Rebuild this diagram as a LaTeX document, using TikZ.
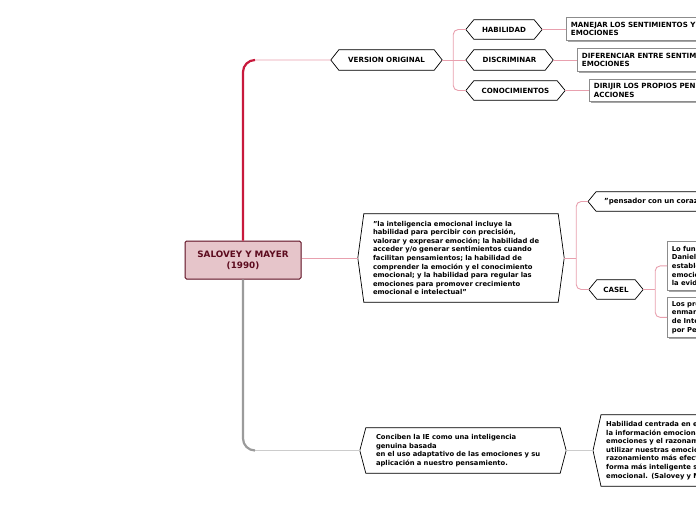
\documentclass[tikz,border=0pt]{standalone}
\usepackage{fontspec}
\setmainfont{DejaVu Sans}
\usetikzlibrary{shadows}
\pgfdeclarelayer{background}
\pgfsetlayers{background,main}
\definecolor{redtrunk}{HTML}{C8193C}
\definecolor{pinkline}{HTML}{E8A0AE}
\definecolor{graytrunk}{HTML}{9B9B9B}
\definecolor{lgrayline}{HTML}{CCCCCC}
\definecolor{leafgray}{HTML}{8C8C8C}
\definecolor{rootfill}{HTML}{E6C5CA}
\definecolor{rootdraw}{HTML}{5C0B1E}
\newcommand{\hexpath}[2]{([xshift=#2]#1.north west) -- ([xshift=-#2]#1.north east) -- (#1.east) -- ([xshift=-#2]#1.south east) -- ([xshift=#2]#1.south west) -- (#1.west) -- cycle}
\newcommand{\hexof}[2]{%
  \begin{pgfonlayer}{background}
    \fill[black!45,yshift=-1.4pt] \hexpath{#1}{#2};
    \filldraw[fill=white,draw=black,line width=0.7pt] \hexpath{#1}{#2};
  \end{pgfonlayer}}
\begin{document}
\begin{tikzpicture}[x=1pt,y=-1pt,
  capsf/.style={font=\fontsize{7.1}{8.8}\selectfont\bfseries},
  bodyf/.style={font=\fontsize{6.8}{8.6}\selectfont\bfseries},
  hexlabel/.style={capsf,inner sep=0pt,minimum height=19pt},
  hexbody/.style={bodyf,inner ysep=0pt,align=left},
  leafbox/.style={capsf,draw=leafgray,fill=white,line width=0.8pt,inner xsep=4.5pt,inner ysep=2pt,
    align=left,anchor=north west,text width=220pt,
    drop shadow={shadow xshift=1.3pt,shadow yshift=-1.3pt,fill=black!35,opacity=1}},
  leafbody/.style={leafbox,bodyf},
  rootbox/.style={draw=rootdraw,fill=rootfill,line width=1pt,rounded corners=1.5pt,
    text=rootdraw,font=\fontsize{8.8}{11}\selectfont\bfseries,align=center,
    minimum width=116pt,minimum height=38pt,inner sep=0pt},
  pinkl/.style={draw=pinkline,line width=0.9pt},
  redl/.style={draw=redtrunk,line width=2.2pt},
  grayl/.style={draw=graytrunk,line width=2.2pt},
  lgrayl/.style={draw=lgrayline,line width=0.9pt}]
\useasboundingbox (0,0) rectangle (696,520);
\clip (0,0) rectangle (696,520);

% root
\node[rootbox] (root) at (243,260) {SALOVEY Y MAYER\\(1990)};

% upper branch
\node[hexlabel,minimum width=111pt,minimum height=20pt] (vo) at (386.5,60) {VERSION ORIGINAL};
\hexof{vo}{8pt}
\node[hexlabel,minimum width=76pt] (hab) at (504,29.5) {HABILIDAD};
\hexof{hab}{8pt}
\node[hexlabel,minimum width=87pt,minimum height=20pt] (dis) at (509.5,60) {DISCRIMINAR};
\hexof{dis}{8pt}
\node[hexlabel,minimum width=99pt] (con) at (515.5,90.5) {CONOCIMIENTOS};
\hexof{con}{8pt}
\node[leafbox,minimum height=23pt] (man) at (566,17) {MANEJAR LOS SENTIMIENTOS Y\\EMOCIONES};
\node[leafbox,minimum height=23pt] (dif) at (577,48) {DIFERENCIAR ENTRE SENTIMIENTOS Y\\EMOCIONES};
\node[leafbox,minimum height=22pt] (dir) at (589,79) {DIRIJIR LOS PROPIOS PENSAMIENTOS Y\\ACCIONES};

% middle branch
\node[hexbody,inner xsep=15pt,text width=176pt,minimum height=88pt] (quote) at (461,258)
  {"la inteligencia emocional incluye la\\
   habilidad para percibir con precisión,\\
   valorar y expresar emoción; la habilidad de\\
   acceder y/o generar sentimientos cuando\\
   facilitan pensamientos; la habilidad de\\
   comprender la emoción y el conocimiento\\
   emocional; y la habilidad para regular las\\
   emociones para promover crecimiento\\
   emocional e intelectual"};
\hexof{quote}{6pt}
\node[hexbody,font=\fontsize{7}{8.5}\selectfont\bfseries,anchor=west,inner xsep=16pt,text width=200pt,minimum height=19pt] (pens) at (588,201.5)
  {"pensador con un corazón"};
\hexof{pens}{8pt}
\node[hexlabel,minimum width=54pt] (casel) at (616,289.5) {CASEL};
\hexof{casel}{8pt}
\node[leafbody,minimum height=49pt] (lofun) at (667,241)
  {Lo fundamental del planteamiento de\\
   Daniel Goleman consiste en\\
   establecer que las competencias\\
   emocionales pueden medirse según\\
   la evidencia científica};
\node[leafbody,minimum height=40pt] (lospr) at (667,297)
  {Los programas de CASEL se\\
   enmarcan en el modelo\\
   de Inteligencia Emocional propuesto\\
   por Peter Salovey};

% lower branch
\node[hexbody,inner xsep=16pt,text width=174pt,minimum height=45pt] (conc) at (463,450.5)
  {Conciben la IE como una inteligencia\\
   genuina basada\\
   en el uso adaptativo de las emociones y su\\
   aplicación a nuestro pensamiento.};
\hexof{conc}{6pt}
\node[hexbody,anchor=west,inner xsep=13pt,text width=220pt,minimum height=71pt] (habc) at (593,450.5)
  {Habilidad centrada en el procesamiento de\\
   la información emocional que unifica las\\
   emociones y el razonamiento, permitiendo\\
   utilizar nuestras emociones para facilitar un\\
   razonamiento más efectivo y pensar de\\
   forma más inteligente sobre nuestra vida\\
   emocional. (Salovey y Mayer, 1997)};
\hexof{habc}{8pt}

% connectors
\coordinate (rc) at (root.north |- vo.west);
\draw[pinkl,rounded corners=12pt] (root.north) |- (vo.west);
\draw[redl,rounded corners=12pt] (root.north) |- ([xshift=12pt]rc);
\coordinate (gc) at (root.south |- conc.west);
\draw[lgrayl,rounded corners=12pt] (root.south) |- (conc.west);
\draw[grayl,rounded corners=12pt] (root.south) |- ([xshift=12pt]gc);
\draw[pinkl] (root.east |- quote.west) -- (quote.west);

\coordinate (vob) at ([xshift=11pt]vo.east);
\draw[pinkl] (vo.east) -- (dis.west);
\draw[pinkl,rounded corners=5pt] (vob) |- (hab.west);
\draw[pinkl,rounded corners=5pt] (vob) |- (con.west);
\draw[pinkl] (hab.east) -- (hab.east -| man.west);
\draw[pinkl] (dis.east) -- (dis.east -| dif.west);
\draw[pinkl] (con.east) -- (con.east -| dir.west);

\coordinate (qb) at ([xshift=12pt]quote.east);
\draw[pinkl] (quote.east) -- (qb);
\draw[pinkl,rounded corners=5pt] (qb) |- (pens.west);
\draw[pinkl,rounded corners=5pt] (qb) |- (casel.west);
\coordinate (cb) at ([xshift=12pt]casel.east);
\draw[pinkl] (casel.east) -- (cb);
\draw[pinkl,rounded corners=5pt] (cb) |- (lofun.west);
\draw[pinkl,rounded corners=5pt] (cb) |- (lospr.west);

\draw[lgrayl] (conc.east) -- (habc.west);
\end{tikzpicture}
\end{document}
